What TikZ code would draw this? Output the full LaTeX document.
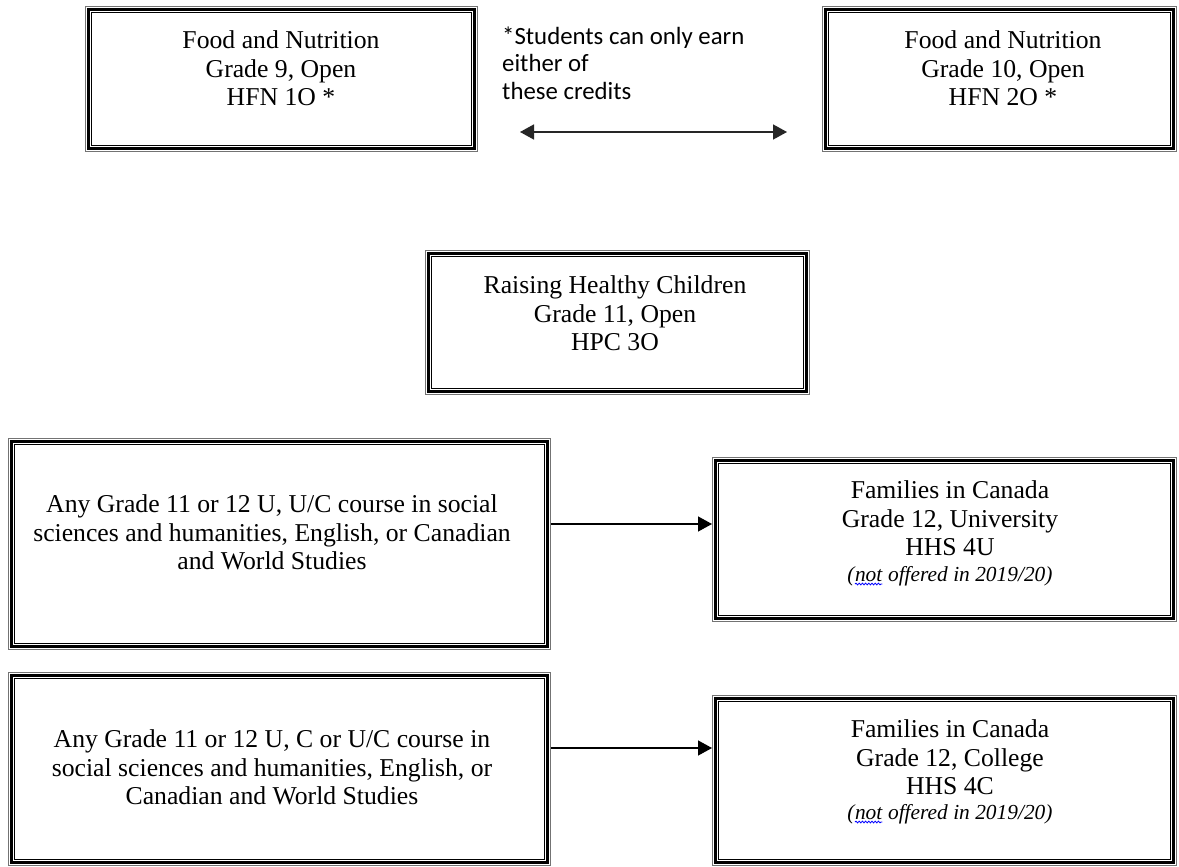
\documentclass[tikz,border=0pt]{standalone}
\usepackage{fontspec}
\setmainfont{Liberation Serif}
\newfontfamily\notefont{Carlito}
\usetikzlibrary{arrows.meta,decorations.pathmorphing}
\newcommand{\spellwave}[1]{\tikz[baseline=(w.base)]{\node[inner sep=0pt,outer sep=0pt](w){#1};\draw[blue,line width=0.8pt,decorate,decoration={snake,amplitude=0.9pt,segment length=3.2pt}]([yshift=-3pt]w.base west)--([yshift=-3pt]w.base east);}}
\tikzset{
  tribox/.style 2 args={rectangle, inner sep=0pt, outer sep=0pt, fill=white,
    minimum width=#1, minimum height=#2,
    path picture={
      \draw[black!55, line width=0.8pt] ([shift={(0.5pt,-0.5pt)}]path picture bounding box.north west) rectangle ([shift={(-0.5pt,0.5pt)}]path picture bounding box.south east);
      \draw[black, line width=3pt] ([shift={(3.2pt,-3.2pt)}]path picture bounding box.north west) rectangle ([shift={(-3.2pt,3.2pt)}]path picture bounding box.south east);
      \draw[black, line width=1pt] ([shift={(6.3pt,-6.3pt)}]path picture bounding box.north west) rectangle ([shift={(-6.3pt,6.3pt)}]path picture bounding box.south east);
    }},
  txt/.style={font=\fontsize{25.7}{28.8}\selectfont, align=center, inner sep=0pt, anchor=north},
  itxt/.style={font=\fontsize{21.4}{24}\selectfont\itshape, inner sep=0pt, anchor=base},
  note/.style={font=\notefont\fontsize{24.8}{27.5}\selectfont, align=left, inner sep=0pt, anchor=north west},
  link/.style={line width=1.3pt, -{Triangle[length=14pt,width=15pt]}},
  dlink/.style={line width=1.6pt, black!85, {Triangle[length=14pt,width=15pt]}-{Triangle[length=14pt,width=15pt]}}
}
\begin{document}
\begin{tikzpicture}[x=1pt,y=-1pt]
\useasboundingbox (0,0) rectangle (1179,867);
\fill[white] (0,0) rectangle (1179,867);
% boxes
\node[tribox={393pt}{146pt}] (b1) at (281.5,79) {};
\node[tribox={355pt}{146pt}] (b2) at (999.5,79) {};
\node[tribox={385pt}{145pt}] (b3) at (617.5,322.5) {};
\node[tribox={543pt}{212pt}] (b4) at (279.5,544) {};
\node[tribox={465pt}{165pt}] (b5) at (944.5,539.5) {};
\node[tribox={543pt}{194pt}] (b6) at (279.5,769) {};
\node[tribox={465pt}{171pt}] (b7) at (944.5,780.5) {};
% texts
\node[txt] (t1) at (281,27.84) {\strut Food and Nutrition\\Grade 9, Open\\HFN 1O *};
\node[txt] (t2) at (1003,27.84) {\strut Food and Nutrition\\Grade 10, Open\\HFN 2O *};
\node[txt] (t3) at (615,272.84) {\strut Raising Healthy Children\\Grade 11, Open\\HPC 3O};
\node[txt] (t4) at (272,491.84) {\strut Any Grade 11 or 12 U, U/C course in social\\sciences and humanities, English, or Canadian\\and World Studies};
\node[txt] (t5) at (950,477.84) {\strut Families in Canada\\Grade 12, University\\HHS 4U};
\node[itxt] (i5) at (950,581) {(\spellwave{not} offered in 2019/20)};
\node[txt] (t6) at (272,726.84) {\strut Any Grade 11 or 12 U, C or U/C course in\\social sciences and humanities, English, or\\Canadian and World Studies};
\node[txt] (t7) at (950,716.84) {\strut Families in Canada\\Grade 12, College\\HHS 4C};
\node[itxt] (i7) at (950,819) {(\spellwave{not} offered in 2019/20)};
% note
\node[note] (n1) at (502,24.75) {\strut*Students can only earn\\either of\\these credits};
\coordinate (dl) at (520,132);
\coordinate (dr) at (787,132);
\draw[dlink] (dl) -- (dr);
% connectors
\draw[link] ([yshift=20pt]b4.east) -- ([yshift=15.5pt]b5.west);
\draw[link] ([yshift=21pt]b6.east) -- ([yshift=32.5pt]b7.west);
\end{tikzpicture}
\end{document}
